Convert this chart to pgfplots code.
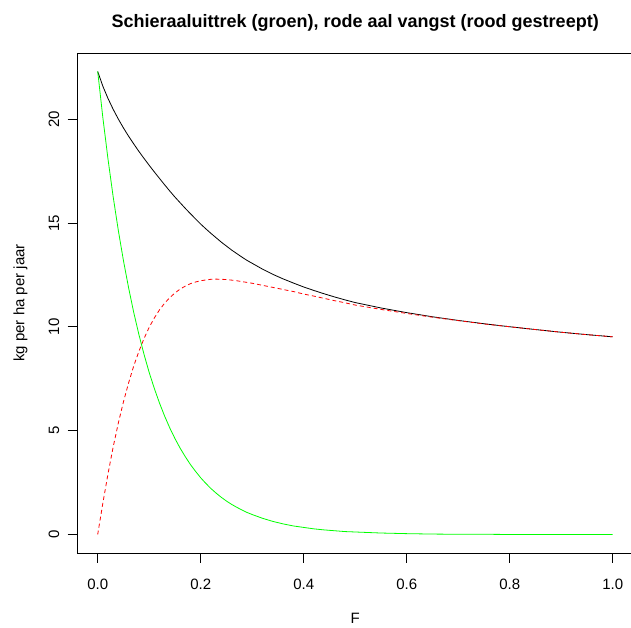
\documentclass[border=0pt]{standalone}
\usepackage{fontspec}
\setmainfont{Liberation Sans}
\usepackage{pgfplots}
\usepackage{pgfplotstable}
\pgfplotsset{compat=1.18}
\pgfplotstableread{
F green red black
0.00 22.30 0.00 22.30
0.01 20.08 1.51 21.59
0.02 18.08 2.92 21.00
0.03 16.27 4.21 20.48
0.04 14.65 5.36 20.01
0.05 13.19 6.39 19.58
0.06 11.88 7.30 19.18
0.07 10.69 8.12 18.81
0.08 9.63 8.82 18.45
0.09 8.67 9.44 18.11
0.10 7.80 9.98 17.78
0.11 7.03 10.43 17.46
0.12 6.33 10.82 17.15
0.13 5.70 11.14 16.84
0.14 5.13 11.41 16.54
0.15 4.62 11.63 16.25
0.16 4.16 11.82 15.98
0.17 3.75 11.96 15.71
0.18 3.37 12.08 15.45
0.19 3.04 12.16 15.20
0.20 2.73 12.22 14.95
0.21 2.46 12.26 14.72
0.22 2.21 12.29 14.50
0.23 1.99 12.30 14.29
0.24 1.79 12.29 14.08
0.25 1.61 12.28 13.89
0.26 1.45 12.25 13.70
0.27 1.31 12.22 13.53
0.28 1.18 12.18 13.36
0.29 1.06 12.14 13.20
0.30 0.96 12.10 13.06
0.32 0.78 12.00 12.78
0.34 0.63 11.90 12.53
0.36 0.51 11.80 12.31
0.38 0.41 11.70 12.11
0.40 0.34 11.58 11.92
0.42 0.27 11.48 11.75
0.44 0.22 11.37 11.59
0.46 0.18 11.26 11.44
0.48 0.14 11.16 11.30
0.50 0.12 11.05 11.17
0.55 0.07 10.84 10.91
0.60 0.04 10.645 10.685
0.65 0.02 10.465 10.485
0.70 0.01 10.30 10.31
0.75 0.01 10.14 10.15
0.80 0.00 10.005 10.005
0.85 0.00 9.87 9.87
0.90 0.00 9.74 9.74
0.95 0.00 9.625 9.625
1.00 0.00 9.52 9.52
}\eeltab
\begin{document}
\begin{tikzpicture}
\begin{axis}[
  scale only axis, width=556.2pt, height=500pt,
  xmin=-0.04, xmax=1.04, ymin=-0.892, ymax=23.19,
  axis line style={line width=0.8pt},
  xtick={0,0.2,0.4,0.6,0.8,1.0},
  xticklabels={0.0,0.2,0.4,0.6,0.8,1.0},
  ytick={0,5,10,15,20},
  yticklabels={0,5,10,15,20},
  tick align=outside, tick pos=left,
  major tick length=9.6pt,
  tick style={black, line width=0.8pt},
  /pgf/number format/assume math mode=true,
  xticklabel style={font=\fontsize{15}{15}\selectfont, anchor=north, inner xsep=0pt, inner ysep=15.9pt},
  yticklabel style={font=\fontsize{15}{15}\selectfont, rotate=90, anchor=south, inner xsep=0pt, inner ysep=8pt},
  every axis title/.style={at={(axis description cs:0.5,1.051)}, anchor=base, font=\bfseries\fontsize{18}{18}\selectfont},
  every axis x label/.style={at={(axis description cs:0.5,-0.1408)}, anchor=base, font=\fontsize{15}{15}\selectfont},
  every axis y label/.style={at={(axis description cs:-0.0946,0.5)}, rotate=90, anchor=base, font=\fontsize{15}{15}\selectfont},
  title={Schieraaluittrek (groen), rode aal vangst (rood gestreept)},
  xlabel={F},
  ylabel={kg per ha per jaar},
  clip=true,
]
\addplot[black, line width=0.8pt] table[x=F, y=black] {\eeltab};
\addplot[color={rgb,255:red,0;green,255;blue,0}, line width=0.8pt] table[x=F, y=green] {\eeltab};
\addplot[color={rgb,255:red,255;green,0;blue,0}, line width=0.8pt, dash pattern=on 4pt off 3pt] table[x=F, y=red] {\eeltab};
\end{axis}
\pgfresetboundingbox
\path[use as bounding box] (-77.1pt,-75pt) rectangle (553.9pt,553pt);
\end{tikzpicture}
\end{document}
